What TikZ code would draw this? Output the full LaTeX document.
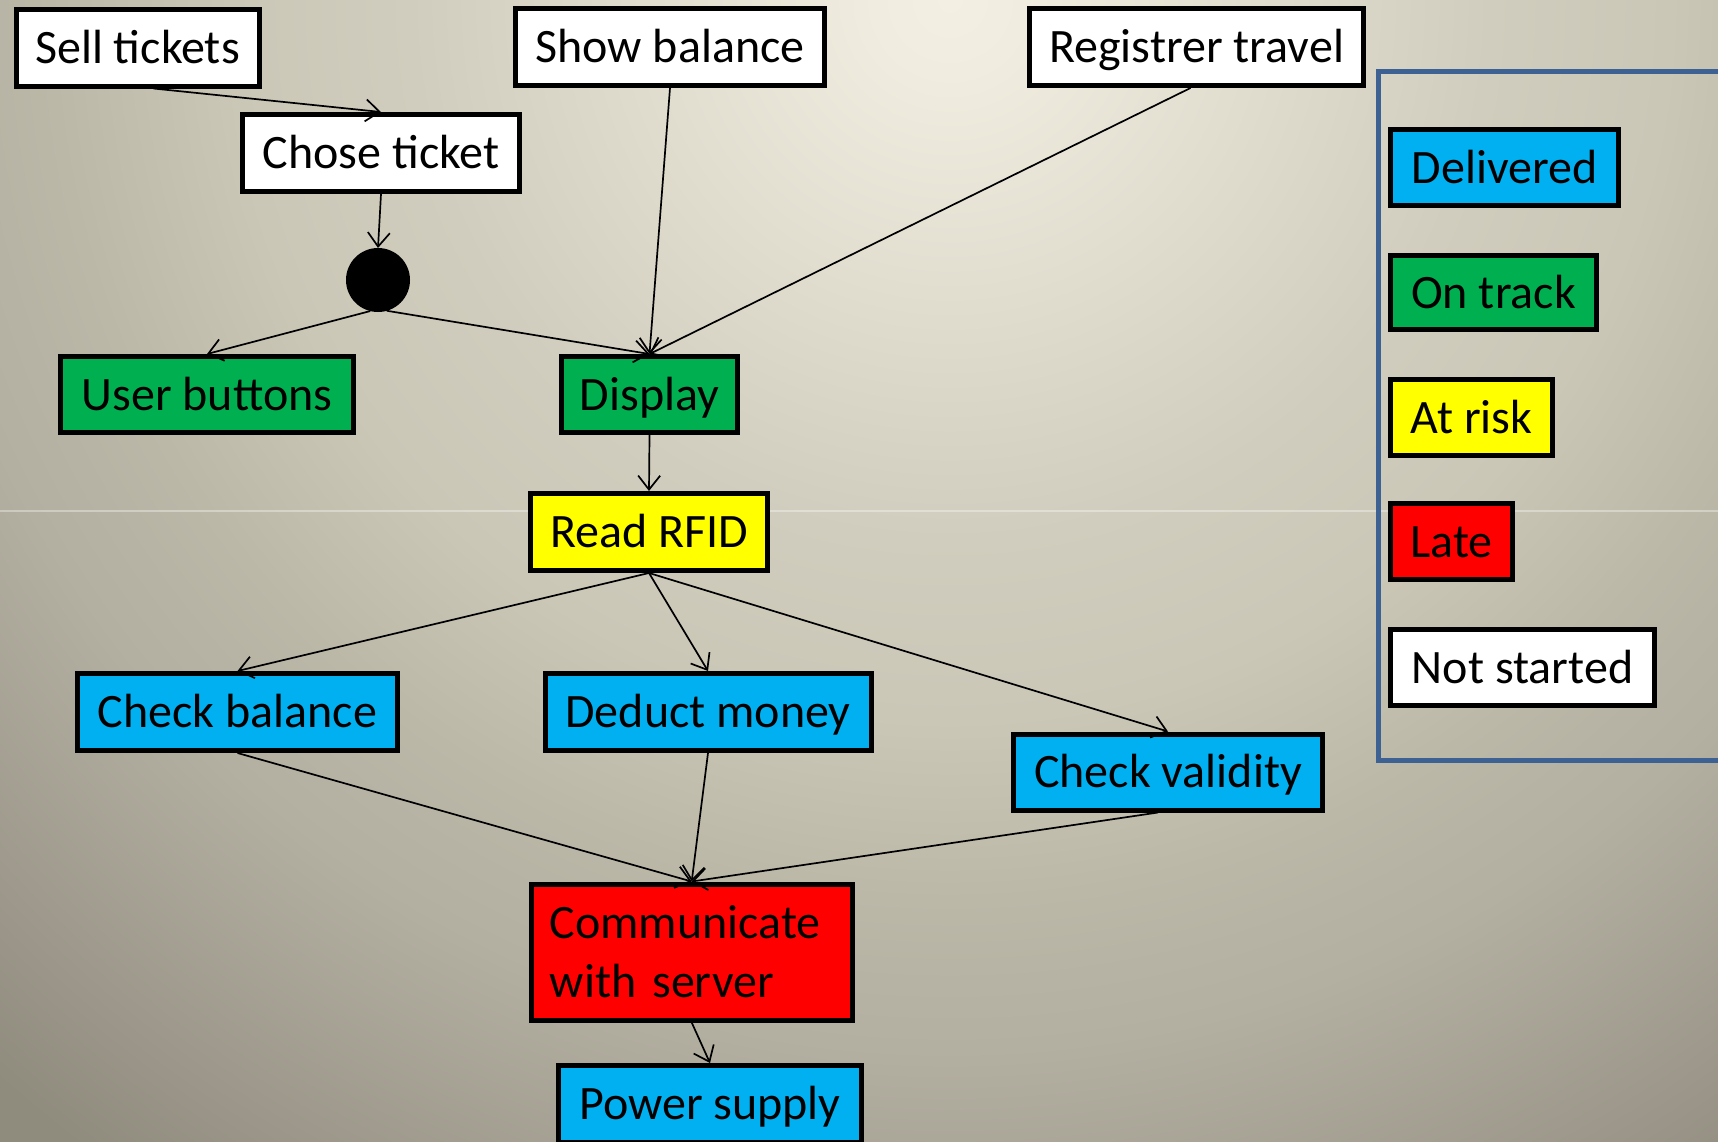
\documentclass[tikz,border=0pt]{standalone}
\usepackage{fontspec}
\setmainfont{Carlito}
\usetikzlibrary{arrows.meta}

% status colours
\definecolor{delivered}{HTML}{00B0F0}
\definecolor{ontrack}{HTML}{00B050}
\definecolor{atrisk}{HTML}{FFFF00}
\definecolor{late}{HTML}{FF0000}
\definecolor{framecol}{HTML}{3C6192}

% backdrop colours, light centre to dark rim
\definecolor{bgA}{HTML}{F3F0E3}
\definecolor{bgB}{HTML}{F0EDE0}
\definecolor{bgC}{HTML}{D0CDBE}
\definecolor{bgD}{HTML}{CAC7B7}
\definecolor{bgE}{HTML}{BCB8A8}
\definecolor{bgF}{HTML}{B3AFA1}
\definecolor{bgG}{HTML}{9A9588}
\definecolor{bgH}{HTML}{8F8B7D}
\definecolor{bgI}{HTML}{898577}

\pgfdeclareradialshading{backdrop}{\pgfpoint{0bp}{0bp}}{%
  color(0bp)=(bgA); color(1.25bp)=(bgB); color(9bp)=(bgC);
  color(12bp)=(bgD); color(15bp)=(bgE); color(17.5bp)=(bgF);
  color(22.15bp)=(bgG); color(24bp)=(bgH); color(40bp)=(bgI)}

\begin{document}
\begin{tikzpicture}[x=0.5pt,y=-0.5pt,
  lbl/.style={font=\fontsize{24pt}{29.5pt}\selectfont},
  box/.style={lbl, draw=black, line width=2.5pt, rectangle, inner sep=0pt,
              text height=15.5pt, text depth=0pt},
  tallbox/.style={lbl, draw=black, line width=2.5pt, rectangle, inner sep=0pt,
              align=left, text width=142pt},
  junction/.style={circle, fill=black, minimum size=32pt, inner sep=0pt, outer sep=0pt},
  arr/.style={-{Straight Barb[length=7pt,width=11pt]}, line width=0.85pt},
  seam/.style={draw=white, opacity=0.35, line width=0.6pt},
  legendframe/.style={draw=framecol, line width=2.3pt}
]
\useasboundingbox (0,0) rectangle (1718,1141);
\clip (0,0) rectangle (1718,1141);
\shade[shading=backdrop] (-550,-1500) rectangle (2450,1500);
\draw[seam] (0,511) -- (1718,511);

% activity boxes
\node[box, fill=white, minimum width=121.5pt, minimum height=38.5pt] (st) at (137.5,47.5) {Sell tickets};
\node[box, fill=white, minimum width=138.5pt, minimum height=38.5pt] (ct) at (381,153) {Chose ticket};
\node[box, fill=white, minimum width=154.5pt, minimum height=38.5pt] (sb) at (670,47) {Show balance};
\node[box, fill=white, minimum width=167pt, minimum height=38.5pt] (rt) at (1196.5,47) {Registrer travel};
\node[junction] (jn) at (378,280) {};
\node[box, fill=ontrack, minimum width=146.5pt, minimum height=38pt] (ub) at (207,394.5) {User buttons};
\node[box, fill=ontrack, minimum width=88pt, minimum height=38pt] (dp) at (649.5,394.5) {Display};
\node[box, fill=atrisk, minimum width=118.5pt, minimum height=38.5pt] (rf) at (649,532) {Read RFID};
\node[box, fill=delivered, minimum width=160pt, minimum height=38.5pt] (cb) at (237.5,712) {Check balance};
\node[box, fill=delivered, minimum width=163pt, minimum height=38.5pt] (dm) at (708,712) {Deduct money};
\node[box, fill=delivered, minimum width=154.5pt, minimum height=38pt] (cv) at (1168,772) {Check validity};
\node[tallbox, fill=late, minimum width=160.5pt, minimum height=68pt] (cm) at (691.7,952) {Communicate\\with server};
\node[box, fill=delivered, minimum width=151.5pt, minimum height=38.5pt] (ps) at (710,1104) {Power supply};

% connectors
\draw[arr] ([xshift=8pt]st.south) -- (ct.north);
\draw[arr] (ct.south) -- (jn.north);
\draw[arr] (jn.-104) -- (ub.north);
\draw[arr] (jn.-74) -- (dp.north);
\draw[arr] (sb.south) -- (dp.north);
\draw[arr] ([xshift=-3pt]rt.south) -- (dp.north);
\draw[arr] (dp.south) -- (rf.north);
\draw[arr] (rf.south) -- (cb.north);
\draw[arr] (rf.south) -- (dm.north);
\draw[arr] (rf.south) -- (cv.north);
\draw[arr] (cb.south) -- (cm.north);
\draw[arr] (dm.south) -- (cm.north);
\draw[arr] ([xshift=-5pt]cv.south) -- (cm.north);
\draw[arr] (cm.south) -- (ps.north);

% legend
\draw[legendframe] (1378.5,71.5) rectangle (1760,760.5);
\node[box, fill=delivered, minimum width=114pt, minimum height=38pt] (lg1) at (1504.5,167.5) {Delivered};
\node[box, fill=ontrack, minimum width=103pt, minimum height=37pt] (lg2) at (1493.5,292.5) {On track};
\node[box, fill=atrisk, minimum width=81pt, minimum height=38pt] (lg3) at (1471.5,417.5) {At risk};
\node[box, fill=late, minimum width=61pt, minimum height=38pt] (lg4) at (1451.5,541.5) {Late};
\node[box, fill=white, minimum width=132pt, minimum height=38pt] (lg5) at (1522.5,667.5) {Not started};
\end{tikzpicture}
\end{document}
